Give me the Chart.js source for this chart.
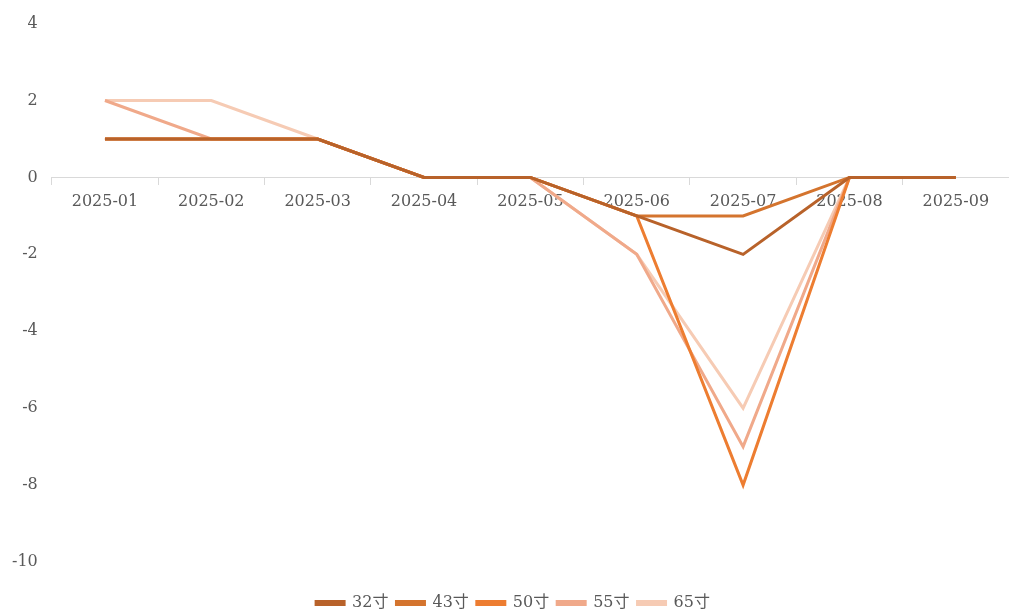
<!DOCTYPE html>
<html>
<head>
<meta charset="utf-8">
<script src="https://cdn.jsdelivr.net/npm/chart.js@4/dist/chart.umd.min.js"></script>
<style>
  html, body { margin: 0; padding: 0; background: #fff; }
  #wrap { width: 1009px; height: 610px; position: relative; }
</style>
</head>
<body>
<div id="wrap"><canvas id="chart"></canvas></div>
<script>
// months on the x axis
const months = ["2025-01", "2025-02", "2025-03", "2025-04", "2025-05", "2025-06", "2025-07", "2025-08", "2025-09"];
// one array per screen size
const size32 = [1, 1, 1, 0, 0, -1, -2, 0, 0];
const size43 = [1, 1, 1, 0, 0, -1, -1, 0, 0];
const size50 = [1, 1, 1, 0, 0, -1, -8, 0, 0];
const size55 = [2, 1, 1, 0, 0, -2, -7, 0, 0];
const size65 = [2, 2, 1, 0, 0, -2, -6, 0, 0];
const seriesNames = ["32寸", "43寸", "50寸", "55寸", "65寸"];
const seriesColors = ["#b8622a", "#d4742e", "#ed7d31", "#f0a98a", "#f6cbb4"];

const fontFamily = "'DejaVu Serif', 'Noto Sans CJK SC', serif";

//building the datasets from the arrays above
const allSeries = [size32, size43, size50, size55, size65];
const datasets = allSeries.map((values, i) => ({
    label: seriesNames[i],
    data: values,
    borderColor: seriesColors[i],
    backgroundColor: seriesColors[i],
    borderWidth: 3,
    pointRadius: 0,
    tension: 0,
    order: i
}));

//the original legend sits a little right of centre
const legendShift = {
    id: "legendShift",
    afterLayout(chart) {
        chart.legend.left += 5;
        chart.legend.right += 5;
    }
};

const ctx = document.getElementById("chart").getContext("2d");
new Chart(ctx, {
    type: "line",
    data: { labels: months, datasets: datasets },
    plugins: [legendShift],
    options: {
        responsive: true,
        maintainAspectRatio: false,
        animation: false,
        //negative bottom/right so the legend sits low and the axis runs off the edge like the original
        layout: { padding: { top: 9, right: -9, left: -2, bottom: -11 } },
        plugins: {
            legend: {
                position: "bottom",
                title: { display: true, text: " ", font: { size: 16, lineHeight: 1 }, padding: { top: 9, bottom: 0 } },
                labels: {
                    boxWidth: 28,
                    boxHeight: 3,
                    padding: 8,
                    color: "#595959",
                    font: { family: fontFamily, size: 16, lineHeight: 1 }
                }
            },
            tooltip: { enabled: false }
        },
        scales: {
            x: {
                position: { y: 0 },
                offset: true,
                grid: {
                    offset: true,
                    drawOnChartArea: false,
                    drawTicks: true,
                    tickLength: 7,
                    color: "#d9d9d9"
                },
                border: { display: true, color: "#d9d9d9" },
                ticks: {
                    color: "#595959",
                    padding: 8,
                    maxRotation: 0,
                    font: { family: fontFamily, size: 16 }
                }
            },
            y: {
                min: -10,
                max: 4,
                grid: { display: false, drawTicks: false },
                border: { display: false },
                ticks: {
                    stepSize: 2,
                    padding: 14,
                    color: "#595959",
                    font: { family: fontFamily, size: 16 }
                }
            }
        }
    }
});
</script>
</body>
</html>
